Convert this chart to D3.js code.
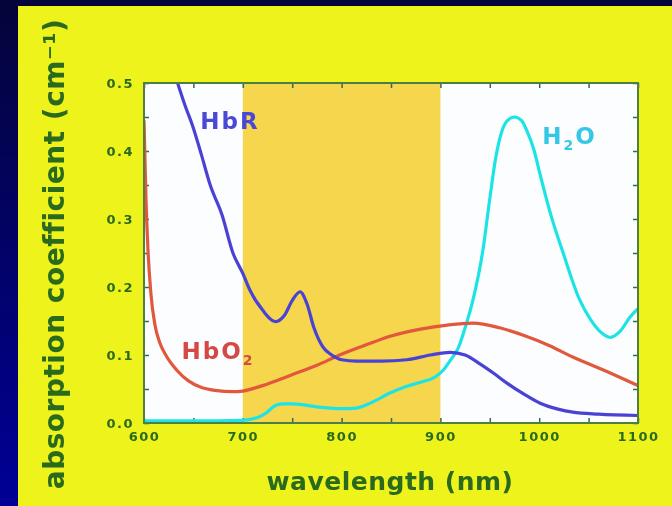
<!DOCTYPE html>
<html>
<head>
<meta charset="utf-8">
<script src="https://cdn.jsdelivr.net/npm/d3@7"></script>
<style>
  body { margin: 0; background: #000050; }
  svg { display: block; }
</style>
</head>
<body>
<svg id="chart"></svg>
<script>
// absorption coefficient (cm^-1) vs wavelength (nm)
const hbrWavelength = [634, 642, 649, 658, 667, 679, 690, 700, 707, 720, 733, 742, 750, 758, 765, 772, 781, 790, 800, 815, 840, 866, 890, 910, 925, 940, 955, 967, 985, 1001, 1020, 1034, 1060, 1100];
const hbrValues = [0.5, 0.465, 0.438, 0.395, 0.35, 0.306, 0.25, 0.22, 0.196, 0.166, 0.149, 0.158, 0.18, 0.193, 0.175, 0.14, 0.112, 0.1, 0.093, 0.091, 0.091, 0.093, 0.1, 0.104, 0.1, 0.087, 0.072, 0.059, 0.042, 0.029, 0.02, 0.016, 0.013, 0.011];

const hbo2Wavelength = [600, 602, 604, 607, 611, 616, 622, 633, 645, 657, 672, 690, 700, 720, 748, 775, 798, 825, 850, 880, 907, 933, 960, 984, 1010, 1034, 1065, 1100];
const hbo2Values = [0.445, 0.33, 0.255, 0.19, 0.145, 0.118, 0.1, 0.078, 0.062, 0.053, 0.048, 0.046, 0.047, 0.055, 0.07, 0.085, 0.1, 0.115, 0.128, 0.138, 0.144, 0.147, 0.14, 0.129, 0.114, 0.097, 0.078, 0.055];

const h2oWavelength = [600, 650, 700, 715, 724, 732, 740, 750, 765, 780, 800, 815, 830, 849, 866, 880, 895, 903, 910, 918, 925, 933, 943, 950, 956, 962, 968, 975, 982, 988, 995, 1001, 1012, 1024, 1041, 1052, 1062, 1072, 1082, 1092, 1100];
const h2oValues = [0.003, 0.003, 0.004, 0.008, 0.015, 0.025, 0.028, 0.028, 0.026, 0.023, 0.021, 0.022, 0.03, 0.044, 0.054, 0.06, 0.068, 0.078, 0.092, 0.11, 0.14, 0.181, 0.254, 0.33, 0.39, 0.428, 0.445, 0.45, 0.445, 0.428, 0.4, 0.365, 0.305, 0.251, 0.181, 0.152, 0.134, 0.126, 0.135, 0.156, 0.168];

const bandRange = [700, 900];
const xTickValues = [600, 700, 800, 900, 1000, 1100];
const yTickValues = [0, 0.1, 0.2, 0.3, 0.4, 0.5];

class AbsorptionChart {
    constructor(_config) {
        this.config = {
            parentElement: _config.parentElement,
            containerWidth: 672,
            containerHeight: 506,
            margin: {top: 83, right: 34, bottom: 83, left: 144},
        };
        this.initVis();
    }

    initVis() {
        let vis = this;
        vis.svg = d3.select(vis.config.parentElement)
            .attr("width", vis.config.containerWidth)
            .attr("height", vis.config.containerHeight);

        vis.innerWidth = vis.config.containerWidth - vis.config.margin.left - vis.config.margin.right;
        vis.innerHeight = vis.config.containerHeight - vis.config.margin.top - vis.config.margin.bottom;

        const defs = vis.svg.append("defs");
        const grad = defs.append("linearGradient").attr("id", "navy")
            .attr("x1", 0).attr("y1", 0).attr("x2", 0).attr("y2", 1);
        grad.append("stop").attr("offset", "0%").attr("stop-color", "#04043a");
        grad.append("stop").attr("offset", "100%").attr("stop-color", "#000096");
        defs.append("filter").attr("id", "soft")
            .append("feGaussianBlur").attr("stdDeviation", 0.7);
        defs.append("clipPath").attr("id", "plotClip")
            .append("rect").attr("width", vis.innerWidth).attr("height", vis.innerHeight);

        // slide background
        vis.svg.append("rect")
            .attr("width", vis.config.containerWidth).attr("height", vis.config.containerHeight)
            .attr("fill", "url(#navy)");
        vis.root = vis.svg.append("g").attr("filter", "url(#soft)");
        vis.root.append("rect")
            .attr("x", 18).attr("y", 6)
            .attr("width", vis.config.containerWidth - 18).attr("height", vis.config.containerHeight - 6)
            .attr("fill", "#eff31f");

        vis.chart = vis.root.append("g")
            .attr("transform", `translate(${vis.config.margin.left},${vis.config.margin.top})`);

        vis.xScale = d3.scaleLinear().domain([600, 1100]).range([0, vis.innerWidth]);
        vis.yScale = d3.scaleLinear().domain([0, 0.5]).range([vis.innerHeight, 0]);

        vis.renderVis();
    }

    renderVis() {
        let vis = this;
        const x = vis.xScale, y = vis.yScale;
        const green = "#2b6a1f";

        vis.chart.append("rect")
            .attr("width", vis.innerWidth).attr("height", vis.innerHeight)
            .attr("fill", "#fbfdff");
        vis.chart.append("rect")
            .attr("x", x(bandRange[0])).attr("width", x(bandRange[1]) - x(bandRange[0]))
            .attr("height", vis.innerHeight)
            .attr("fill", "#f5d64e");

        // minor ticks inside the frame
        const axisStyle = g => {
            g.select(".domain").remove();
            g.selectAll("line").attr("stroke", "#2f6a5a").attr("stroke-width", 1.5);
        };
        const xMinor = d3.range(600, 1101, 50), yMinor = d3.range(0, 0.501, 0.05);
        vis.chart.append("g").attr("transform", `translate(0,${vis.innerHeight})`)
            .call(d3.axisTop(x).tickValues(xMinor).tickSize(5).tickFormat("")).call(axisStyle);
        vis.chart.append("g")
            .call(d3.axisBottom(x).tickValues(xMinor).tickSize(5).tickFormat("")).call(axisStyle);
        vis.chart.append("g")
            .call(d3.axisRight(y).tickValues(yMinor).tickSize(5).tickFormat("")).call(axisStyle);
        vis.chart.append("g").attr("transform", `translate(${vis.innerWidth},0)`)
            .call(d3.axisLeft(y).tickValues(yMinor).tickSize(5).tickFormat("")).call(axisStyle);

        // tick labels
        const xAxis = vis.chart.append("g").attr("transform", `translate(0,${vis.innerHeight})`)
            .call(d3.axisBottom(x).tickValues(xTickValues).tickSize(0).tickPadding(9).tickFormat(d3.format("d")));
        const yAxis = vis.chart.append("g")
            .call(d3.axisLeft(y).tickValues(yTickValues).tickSize(0).tickPadding(10).tickFormat(d3.format(".1f")));
        [xAxis, yAxis].forEach(a => {
            a.select(".domain").remove();
            a.selectAll("text")
                .attr("fill", green).attr("font-family", "DejaVu Sans")
                .attr("font-weight", "bold").attr("font-size", 13).attr("letter-spacing", 1.5);
        });

        // curves
        const line = d3.line().x(d => x(d[0])).y(d => y(d[1])).curve(d3.curveMonotoneX);
        const curves = vis.chart.append("g").attr("clip-path", "url(#plotClip)");
        const series = [
            {name: "H2O", xs: h2oWavelength, ys: h2oValues, color: "#1fe3e6"},
            {name: "HbO2", xs: hbo2Wavelength, ys: hbo2Values, color: "#e2583c"},
            {name: "HbR", xs: hbrWavelength, ys: hbrValues, color: "#4842d4"},
        ];
        curves.selectAll("path").data(series).join("path")
            .attr("d", d => line(d3.zip(d.xs, d.ys)))
            .attr("fill", "none")
            .attr("stroke", d => d.color)
            .attr("stroke-width", 3.2)
            .attr("stroke-linejoin", "round");

        // frame
        vis.chart.append("rect")
            .attr("width", vis.innerWidth).attr("height", vis.innerHeight)
            .attr("fill", "none").attr("stroke", "#4f7f3f").attr("stroke-width", 2);

        // series labels
        const label = (nm, v, color, main, sub, rest) => {
            const t = vis.chart.append("text")
                .attr("x", x(nm)).attr("y", y(v))
                .attr("fill", color).attr("font-family", "DejaVu Sans")
                .attr("font-weight", "bold").attr("font-size", 23).attr("letter-spacing", 2);
            t.append("tspan").text(main);
            if (sub) {
                t.append("tspan").attr("font-size", 14).attr("dy", 6).text(sub);
                if (rest) t.append("tspan").attr("dy", -6).text(rest);
            }
        };
        label(657, 0.432, "#4a4ad6", "HbR");
        label(1003, 0.41, "#35c8e6", "H", "2", "O");
        label(638, 0.094, "#d54a44", "HbO", "2");

        // axis titles
        vis.root.append("text")
            .attr("x", 390).attr("y", 490)
            .attr("text-anchor", "middle")
            .attr("fill", green).attr("font-family", "DejaVu Sans")
            .attr("font-weight", "bold").attr("font-size", 25).attr("letter-spacing", 0.5)
            .text("wavelength (nm)");
        vis.root.append("text")
            .attr("transform", "translate(64,254) rotate(-90)")
            .attr("text-anchor", "middle")
            .attr("fill", green).attr("font-family", "DejaVu Sans")
            .attr("font-weight", "bold").attr("font-size", 28).attr("letter-spacing", 0.5)
            .text("absorption coefficient (cm\u207B\u00B9)");
    }
}

new AbsorptionChart({parentElement: "#chart"});
</script>
</body>
</html>
